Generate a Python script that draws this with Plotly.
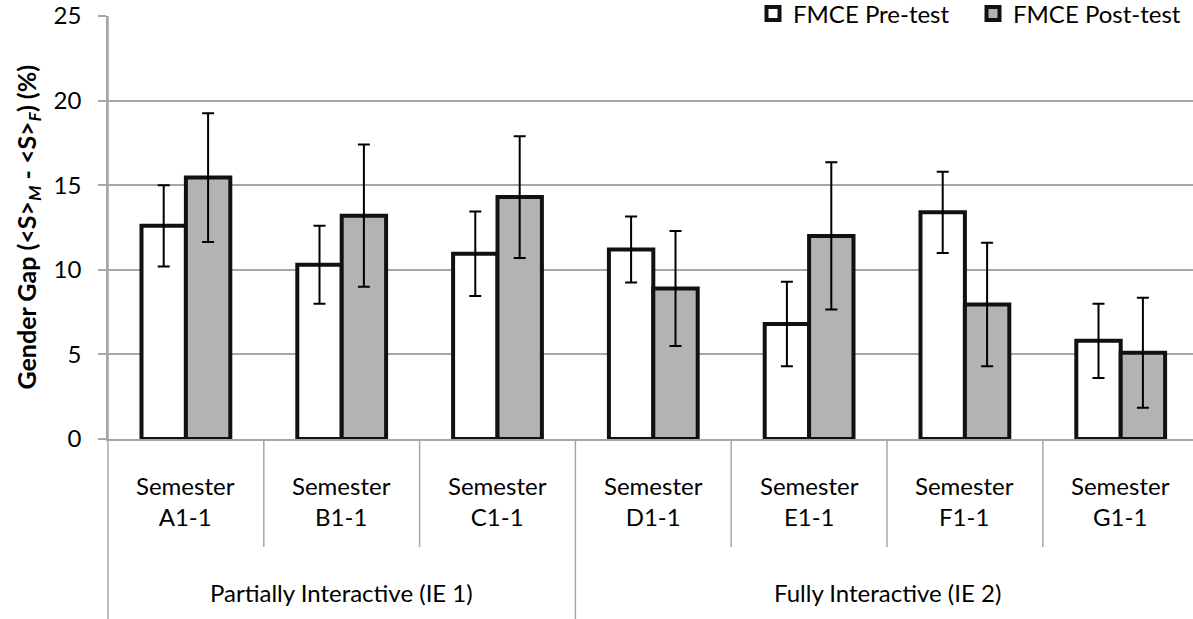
import plotly.graph_objects as go

# Semester data: gender gap (percentage points) with error bars
semesters = ["A1-1", "B1-1", "C1-1", "D1-1", "E1-1", "F1-1", "G1-1"]
pre_test = [12.6, 10.3, 10.95, 11.2, 6.8, 13.4, 5.8]
pre_err = [2.4, 2.3, 2.5, 1.95, 2.5, 2.4, 2.2]
post_test = [15.45, 13.2, 14.3, 8.9, 12.0, 7.95, 5.1]
post_err = [3.8, 4.2, 3.6, 3.4, 4.35, 3.65, 3.25]

series_names = ["FMCE Pre-test", "FMCE Post-test"]
series_fill = ["#ffffff", "#b3b3b3"]

# Course environments and the semesters they span (start index, count)
groups = ["Partially Interactive (IE 1)", "Fully Interactive (IE 2)"]
group_spans = [(0, 3), (3, 4)]

y_ticks = [0, 5, 10, 15, 20, 25]

FONT = "Lato"
GRID = "#a6a6a6"
EDGE = "#111111"
W, H = 1193, 619
ML, MR, MT, MB = 108, 0, 16, 180
plot_w = W - ML - MR
plot_h = H - MT - MB

cat_px = 155.8  # width of one category slot
x_range = [-0.5, -0.5 + plot_w / cat_px]


def xp(v):
    """Category-index position -> paper x."""
    return (v - x_range[0]) / (x_range[1] - x_range[0])


def yp(px_below):
    """Pixels below the plot bottom -> paper y."""
    return -px_below / plot_h


fig = go.Figure()
for name, fill, vals, errs in zip(series_names, series_fill,
                                  [pre_test, post_test], [pre_err, post_err]):
    fig.add_trace(go.Bar(
        name=name, x=list(range(len(semesters))), y=vals,
        legendgroup=name, showlegend=False,
        marker=dict(color=fill, line=dict(color=EDGE, width=4)),
        error_y=dict(type="data", array=errs, color="#000000", thickness=2, width=6),
    ))
    # Legend key: a heavy-outlined square in the series fill
    fig.add_trace(go.Scatter(
        name=name, x=[None], y=[None], mode="markers", legendgroup=name,
        marker=dict(symbol="square", size=13, color=fill,
                    line=dict(color=EDGE, width=4)),
    ))

shapes = []
annotations = []

# Vertical axis line continuing through the category label area
shapes.append(dict(type="line", xref="paper", yref="paper", x0=0, x1=0,
                   y0=1, y1=yp(MB), line=dict(color=GRID, width=1.5)))

# Dividers between semesters and between groups
group_starts = {s for s, _ in group_spans}
for i in range(1, len(semesters)):
    bottom = yp(MB) if i in group_starts else yp(108)
    shapes.append(dict(type="line", xref="paper", yref="paper",
                       x0=xp(i - 0.5), x1=xp(i - 0.5), y0=0, y1=bottom,
                       line=dict(color=GRID, width=1.5)))

# White strip so the top gridline stops where the legend begins
shapes.append(dict(type="rect", xref="paper", yref="paper",
                   x0=(706 - ML) / plot_w, x1=1.01, y0=0.98, y1=1.03,
                   fillcolor="#ffffff", line=dict(width=0), layer="above"))

for i, s in enumerate(semesters):
    annotations.append(dict(xref="x", yref="paper", x=i, y=yp(62),
                            text="Semester<br>" + s, showarrow=False,
                            font=dict(family=FONT, size=24, color="#000"),
                            xanchor="center", yanchor="middle", align="center"))

for g, (start, count) in zip(groups, group_spans):
    centre = start + (count - 1) / 2
    annotations.append(dict(xref="x", yref="paper", x=centre, y=yp(153),
                            text=g, showarrow=False,
                            font=dict(family=FONT, size=24, color="#000"),
                            xanchor="center", yanchor="middle"))

# Axis title
annotations.append(dict(
    xref="paper", yref="paper", x=(27 - ML) / plot_w, y=0.5,
    text="<b>Gender Gap (&lt;S&gt;<sub><i>M</i></sub> - &lt;S&gt;<sub><i>F</i></sub>) (%)</b>",
    textangle=-90, showarrow=False, xanchor="center", yanchor="middle",
    font=dict(family=FONT, size=25, color="#000")))

fig.update_layout(
    width=W, height=H,
    margin=dict(l=ML, r=MR, t=MT, b=MB, pad=0, autoexpand=False),
    paper_bgcolor="#ffffff", plot_bgcolor="#ffffff",
    font=dict(family=FONT, size=24, color="#000"),
    barmode="group", bargap=0.43, bargroupgap=0,
    showlegend=True,
    legend=dict(orientation="h", x=1, xanchor="right",
                y=1 + 2 / plot_h, yanchor="middle", bgcolor="rgba(0,0,0,0)",
                font=dict(family=FONT, size=24, color="#000"),
                entrywidth=175, entrywidthmode="pixels",
                itemsizing="trace", traceorder="normal"),
    xaxis=dict(range=x_range, showticklabels=False, ticks="", showgrid=False,
               showline=True, linecolor=GRID, linewidth=1.5, zeroline=False,
               fixedrange=True),
    yaxis=dict(range=[0, 25], tickvals=y_ticks, ticks="outside", ticklen=8,
               tickcolor=GRID, tickwidth=1.5, showgrid=True, gridcolor=GRID,
               gridwidth=1.5, zeroline=False, showline=True, linecolor=GRID,
               linewidth=1.5, ticklabelstandoff=12,
               tickfont=dict(family=FONT, size=24, color="#000"),
               fixedrange=True),
    shapes=shapes, annotations=annotations,
    hovermode=False,
)

fig.write_html("out.html")
